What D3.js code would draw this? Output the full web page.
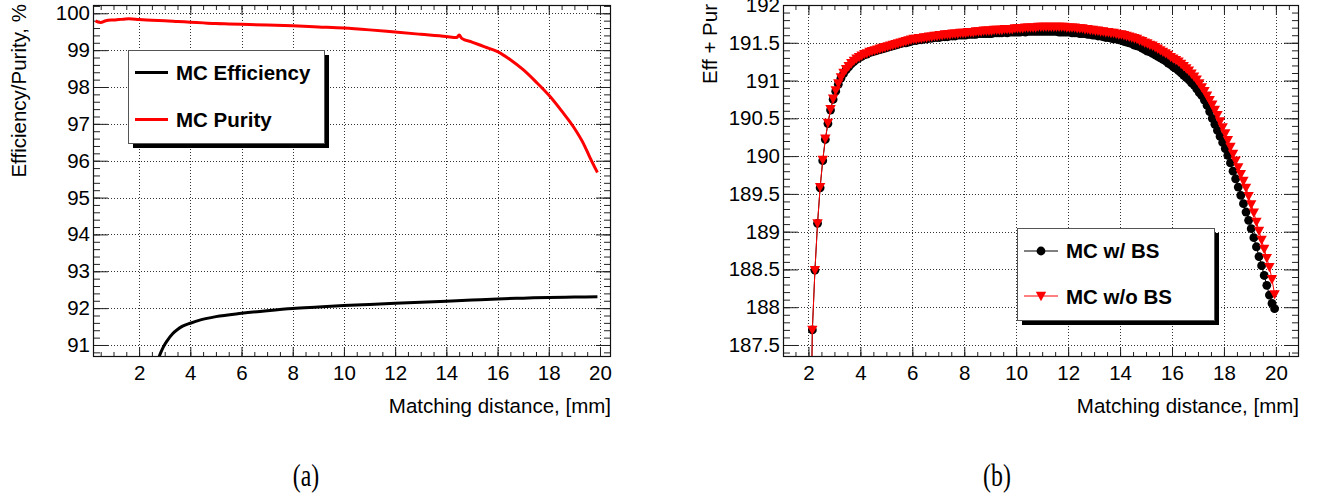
<!DOCTYPE html>
<html>
<head>
<meta charset="utf-8">
<script src="https://cdn.jsdelivr.net/npm/d3@7"></script>
<style>
  html, body { margin: 0; padding: 0; background: #fff; }
  svg { display: block; }
</style>
</head>
<body>
<svg id="fig" width="1320" height="497"></svg>
<script>
// ---- Panel (a): efficiency and purity versus matching distance ----
const effDist = [2.45, 2.55, 2.65, 2.75, 2.85, 2.95, 3.1, 3.3, 3.5, 3.7, 4.0, 4.4, 5.0, 6.0, 7.0, 8.0, 9.0, 10.0, 11.0, 12.0, 13.0, 14.0, 15.0, 16.0, 17.0, 18.0, 19.0, 19.9];
const effVal  = [89.77, 90.13, 90.41, 90.62, 90.80, 90.95, 91.12, 91.30, 91.42, 91.51, 91.59, 91.68, 91.77, 91.86, 91.93, 91.99, 92.03, 92.07, 92.10, 92.13, 92.16, 92.19, 92.22, 92.25, 92.27, 92.29, 92.30, 92.31];

const purDist = [0.3, 0.4, 0.5, 0.7, 1.0, 1.2, 1.4, 1.6, 2.0, 2.5, 3.0, 3.5, 4.0, 4.5, 5.0, 5.5, 6.0, 7.0, 8.0, 9.0, 10.0, 11.0, 12.0, 13.0, 14.0, 14.4, 14.5, 14.6, 15.0, 15.5, 16.0, 16.5, 17.0, 17.5, 18.0, 18.5, 19.0, 19.35, 19.6, 19.9];
const purVal  = [99.80, 99.76, 99.75, 99.80, 99.82, 99.83, 99.84, 99.85, 99.83, 99.81, 99.80, 99.78, 99.76, 99.74, 99.72, 99.71, 99.70, 99.68, 99.66, 99.63, 99.60, 99.55, 99.49, 99.43, 99.37, 99.34, 99.41, 99.32, 99.22, 99.09, 98.96, 98.74, 98.47, 98.14, 97.78, 97.35, 96.88, 96.47, 96.10, 95.68];

const xTicksA = [2, 4, 6, 8, 10, 12, 14, 16, 18, 20];
const yTicksA = [91, 92, 93, 94, 95, 96, 97, 98, 99, 100];

// ---- Panel (b): efficiency + purity, sampled every 0.1 mm from 2.05 mm ----
const sumStart = 2.05, sumStep = 0.1;
const sumWithBS = [
  185.30, 187.70, 188.49, 189.11, 189.58, 189.94, 190.22, 190.43, 190.61, 190.75,
  190.86, 190.95, 191.03, 191.09, 191.14, 191.18, 191.22, 191.25, 191.28, 191.30,
  191.32, 191.34, 191.35, 191.37, 191.38, 191.39, 191.40, 191.41, 191.42, 191.43,
  191.44, 191.45, 191.46, 191.47, 191.48, 191.49, 191.50, 191.50, 191.51, 191.52,
  191.53, 191.53, 191.54, 191.54, 191.55, 191.55, 191.56, 191.56, 191.57, 191.57,
  191.57, 191.58, 191.58, 191.58, 191.59, 191.59, 191.59, 191.60, 191.60, 191.60,
  191.60, 191.61, 191.61, 191.61, 191.61, 191.62, 191.62, 191.62, 191.62, 191.62,
  191.62, 191.63, 191.63, 191.63, 191.63, 191.64, 191.63, 191.64, 191.64, 191.64,
  191.64, 191.64, 191.65, 191.64, 191.65, 191.65, 191.65, 191.65, 191.65, 191.65,
  191.65, 191.65, 191.65, 191.65, 191.65, 191.65, 191.64, 191.64, 191.64, 191.64,
  191.64, 191.63, 191.63, 191.63, 191.62, 191.62, 191.62, 191.61, 191.61, 191.60,
  191.60, 191.59, 191.59, 191.58, 191.57, 191.57, 191.56, 191.55, 191.55, 191.54,
  191.53, 191.52, 191.51, 191.50, 191.49, 191.47, 191.46, 191.45, 191.43, 191.41,
  191.39, 191.38, 191.36, 191.34, 191.32, 191.30, 191.28, 191.26, 191.23, 191.21,
  191.18, 191.16, 191.13, 191.10, 191.07, 191.04, 191.01, 190.97, 190.94, 190.89,
  190.84, 190.80, 190.74, 190.67, 190.59, 190.50, 190.42, 190.34, 190.26, 190.18,
  190.10, 190.01, 189.91, 189.80, 189.70, 189.59, 189.48, 189.37, 189.26, 189.15,
  189.04, 188.92, 188.80, 188.67, 188.55, 188.42, 188.29, 188.16, 188.05, 187.98
];
const sumWithoutBS = [
  185.30, 187.70, 188.49, 189.11, 189.59, 189.95, 190.23, 190.44, 190.62, 190.76,
  190.87, 190.96, 191.04, 191.10, 191.15, 191.19, 191.23, 191.26, 191.29, 191.31,
  191.33, 191.35, 191.36, 191.38, 191.39, 191.40, 191.41, 191.42, 191.43, 191.44,
  191.45, 191.46, 191.47, 191.48, 191.49, 191.50, 191.51, 191.52, 191.53, 191.54,
  191.55, 191.55, 191.56, 191.56, 191.57, 191.57, 191.58, 191.58, 191.59, 191.59,
  191.60, 191.60, 191.61, 191.61, 191.61, 191.62, 191.62, 191.62, 191.63, 191.63,
  191.63, 191.64, 191.64, 191.64, 191.65, 191.65, 191.65, 191.66, 191.66, 191.66,
  191.66, 191.67, 191.67, 191.67, 191.67, 191.68, 191.68, 191.68, 191.68, 191.69,
  191.69, 191.69, 191.69, 191.70, 191.70, 191.70, 191.70, 191.70, 191.71, 191.71,
  191.71, 191.71, 191.71, 191.71, 191.71, 191.71, 191.71, 191.71, 191.71, 191.70,
  191.70, 191.70, 191.70, 191.69, 191.69, 191.69, 191.68, 191.68, 191.67, 191.67,
  191.66, 191.66, 191.65, 191.65, 191.64, 191.64, 191.63, 191.63, 191.62, 191.61,
  191.61, 191.60, 191.59, 191.58, 191.57, 191.56, 191.55, 191.53, 191.52, 191.50,
  191.49, 191.47, 191.46, 191.44, 191.42, 191.40, 191.38, 191.36, 191.34, 191.31,
  191.29, 191.27, 191.25, 191.22, 191.19, 191.16, 191.13, 191.09, 191.05, 191.01,
  190.96, 190.91, 190.86, 190.80, 190.74, 190.68, 190.61, 190.54, 190.46, 190.38,
  190.30, 190.21, 190.12, 190.03, 189.94, 189.85, 189.76, 189.67, 189.58, 189.47,
  189.36, 189.25, 189.13, 189.01, 188.89, 188.77, 188.65, 188.53, 188.37, 188.17
];

const xTicksB = [2, 4, 6, 8, 10, 12, 14, 16, 18, 20];
const yTicksB = [187.5, 188, 188.5, 189, 189.5, 190, 190.5, 191, 191.5, 192];

const FONT = '"Liberation Sans", Arial, Helvetica, sans-serif';
const FS = 20.5;
const svg = d3.select("#fig");

// Frame, grid, ticks and axis titles of one ROOT-style pad
function drawFrame(cfg) {
  const g = svg.append("g");
  const x = d3.scaleLinear().domain(cfg.xDomain).range([cfg.left, cfg.right]);
  const y = d3.scaleLinear().domain(cfg.yDomain).range([cfg.bottom, cfg.top]);
  const w = cfg.right - cfg.left, h = cfg.bottom - cfg.top;

  // dotted grid at major ticks
  const grid = g.append("g").attr("stroke", "#333").attr("stroke-width", 1).attr("stroke-dasharray", "1,2");
  cfg.xTicks.forEach(v => {
    const px = Math.round(x(v)) + 0.5;
    grid.append("line").attr("x1", px).attr("x2", px).attr("y1", cfg.top).attr("y2", cfg.bottom);
  });
  cfg.yTicks.forEach(v => {
    const py = Math.round(y(v)) + 0.5;
    grid.append("line").attr("x1", cfg.left).attr("x2", cfg.right).attr("y1", py).attr("y2", py);
  });

  const style = sel => {
    sel.select(".domain").remove();
    sel.selectAll(".tick line").attr("stroke", "#222");
    sel.selectAll(".tick text").attr("font-family", FONT).attr("font-size", FS).attr("fill", "#000");
  };

  // bottom axis (labels) + minor ticks
  g.append("g").attr("transform", `translate(0,${cfg.bottom})`)
    .call(d3.axisBottom(x).tickValues(cfg.xTicks).tickSize(-10).tickPadding(8).tickFormat(d3.format("d")))
    .call(style);
  g.append("g").attr("transform", `translate(0,${cfg.bottom})`)
    .call(d3.axisBottom(x).tickValues(cfg.xMinor).tickSize(-5).tickFormat(""))
    .call(style);
  // top axis ticks
  g.append("g").attr("transform", `translate(0,${cfg.top})`)
    .call(d3.axisTop(x).tickValues(cfg.xTicks).tickSize(-10).tickFormat(""))
    .call(style);
  g.append("g").attr("transform", `translate(0,${cfg.top})`)
    .call(d3.axisTop(x).tickValues(cfg.xMinor).tickSize(-5).tickFormat(""))
    .call(style);
  // left axis (labels) + minor ticks
  g.append("g").attr("transform", `translate(${cfg.left},0)`)
    .call(d3.axisLeft(y).tickValues(cfg.yTicks).tickSize(-15).tickPadding(3).tickFormat(cfg.yFormat))
    .call(style);
  g.append("g").attr("transform", `translate(${cfg.left},0)`)
    .call(d3.axisLeft(y).tickValues(cfg.yMinor).tickSize(-7).tickFormat(""))
    .call(style);
  // right axis ticks
  g.append("g").attr("transform", `translate(${cfg.right},0)`)
    .call(d3.axisRight(y).tickValues(cfg.yTicks).tickSize(-15).tickFormat(""))
    .call(style);
  g.append("g").attr("transform", `translate(${cfg.right},0)`)
    .call(d3.axisRight(y).tickValues(cfg.yMinor).tickSize(-7).tickFormat(""))
    .call(style);

  // frame
  g.append("rect").attr("x", cfg.left + 0.5).attr("y", cfg.top + 0.5)
    .attr("width", w - 1).attr("height", h - 1)
    .attr("fill", "none").attr("stroke", "#111").attr("stroke-width", 1.2);

  // axis titles
  g.append("text").attr("x", cfg.right).attr("y", 413)
    .attr("text-anchor", "end").attr("font-family", FONT).attr("font-size", FS)
    .text(cfg.xTitle);
  g.append("text").attr("transform", `translate(${cfg.yTitleX},${cfg.top - 1}) rotate(-90)`)
    .attr("text-anchor", "end").attr("font-family", FONT).attr("font-size", FS)
    .text(cfg.yTitle);

  // clip region for data
  const clipId = cfg.id + "-clip";
  svg.append("clipPath").attr("id", clipId).append("rect")
    .attr("x", cfg.left + 1).attr("y", cfg.top + 1).attr("width", w - 2).attr("height", h - 2);
  const plot = svg.append("g").attr("clip-path", `url(#${clipId})`);
  return { x, y, plot };
}

function legendBox(x0, y0, w, h) {
  svg.append("rect").attr("x", x0 + 5).attr("y", y0 + 5).attr("width", w).attr("height", h).attr("fill", "#000");
  svg.append("rect").attr("x", x0 + 0.5).attr("y", y0 + 0.5).attr("width", w).attr("height", h)
    .attr("fill", "#fff").attr("stroke", "#555").attr("stroke-width", 1);
}

function legendText(x0, y0, label) {
  svg.append("text").attr("x", x0).attr("y", y0).attr("font-family", FONT)
    .attr("font-weight", "bold").attr("font-size", FS).text(label);
}

// ================= Panel (a) =================
const A = drawFrame({
  id: "pa", left: 93, right: 611, top: 5, bottom: 357,
  xDomain: [0.2, 20.43], yDomain: [90.674, 100.225],
  xTicks: xTicksA, xMinor: d3.range(0.5, 20.3, 0.5),
  yTicks: yTicksA, yMinor: d3.range(90.8, 100.23, 0.2).map(v => +v.toFixed(1)),
  yFormat: d3.format("d"),
  xTitle: "Matching distance, [mm]", yTitle: "Efficiency/Purity, %", yTitleX: 26
});

const lineA = d3.line().curve(d3.curveMonotoneX).x(d => A.x(d[0])).y(d => A.y(d[1]));
A.plot.append("path").datum(d3.zip(purDist, purVal)).attr("d", lineA)
  .attr("fill", "none").attr("stroke", "#ff0000").attr("stroke-width", 3).attr("stroke-linejoin", "round");
A.plot.append("path").datum(d3.zip(effDist, effVal)).attr("d", lineA)
  .attr("fill", "none").attr("stroke", "#000").attr("stroke-width", 3).attr("stroke-linejoin", "round");

legendBox(128, 50, 196, 93);
svg.append("line").attr("x1", 135).attr("x2", 168).attr("y1", 72.5).attr("y2", 72.5).attr("stroke", "#000").attr("stroke-width", 3);
legendText(176, 80, "MC Efficiency");
svg.append("line").attr("x1", 135).attr("x2", 168).attr("y1", 119.5).attr("y2", 119.5).attr("stroke", "#ff0000").attr("stroke-width", 3);
legendText(176, 127, "MC Purity");

// ================= Panel (b) =================
const B = drawFrame({
  id: "pb", left: 783, right: 1299, top: 5, bottom: 357,
  xDomain: [1.02, 20.89], yDomain: [187.341, 192],
  xTicks: xTicksB, xMinor: d3.range(1.5, 20.6, 0.5),
  yTicks: yTicksB, yMinor: d3.range(187.4, 192.01, 0.1).map(v => +v.toFixed(1)),
  yFormat: d => d3.format("")(d),
  xTitle: "Matching distance, [mm]", yTitle: "Eff + Pur", yTitleX: 717
});

const distB = sumWithBS.map((_, i) => +(sumStart + i * sumStep).toFixed(2));
const ptsWith = d3.zip(distB, sumWithBS);
const ptsWithout = d3.zip(distB, sumWithoutBS);
const lineB = d3.line().x(d => B.x(d[0])).y(d => B.y(d[1]));
const triDown = "M-5.2,-4.2L5.2,-4.2L0,5.2Z";

B.plot.append("path").datum(ptsWith).attr("d", lineB).attr("fill", "none").attr("stroke", "#000").attr("stroke-width", 1);
B.plot.append("g").selectAll("circle").data(ptsWith).join("circle")
  .attr("cx", d => B.x(d[0])).attr("cy", d => B.y(d[1])).attr("r", 4.4).attr("fill", "#000");

B.plot.append("path").datum(ptsWithout).attr("d", lineB).attr("fill", "none").attr("stroke", "#ff0000").attr("stroke-width", 1);
B.plot.append("g").selectAll("path").data(ptsWithout).join("path")
  .attr("transform", d => `translate(${B.x(d[0])},${B.y(d[1])})`).attr("d", triDown).attr("fill", "#ff0000");

legendBox(1017, 228, 197, 92);
svg.append("line").attr("x1", 1024).attr("x2", 1058).attr("y1", 251).attr("y2", 251).attr("stroke", "#000").attr("stroke-width", 1);
svg.append("circle").attr("cx", 1041).attr("cy", 251).attr("r", 4.4).attr("fill", "#000");
legendText(1066, 258, "MC w/ BS");
svg.append("line").attr("x1", 1024).attr("x2", 1058).attr("y1", 296).attr("y2", 296).attr("stroke", "#ff0000").attr("stroke-width", 1);
svg.append("path").attr("transform", "translate(1041,296)").attr("d", triDown).attr("fill", "#ff0000");
legendText(1066, 304, "MC w/o BS");

// sub-figure captions
const serif = '"Liberation Serif", "Times New Roman", serif';
svg.append("text").attr("transform", "translate(306,486) scale(0.85,1.1)").attr("text-anchor", "middle")
  .attr("font-family", serif).attr("font-size", 28).text("(a)");
svg.append("text").attr("transform", "translate(997,486) scale(0.85,1.1)").attr("text-anchor", "middle")
  .attr("font-family", serif).attr("font-size", 28).text("(b)");
</script>
</body>
</html>
